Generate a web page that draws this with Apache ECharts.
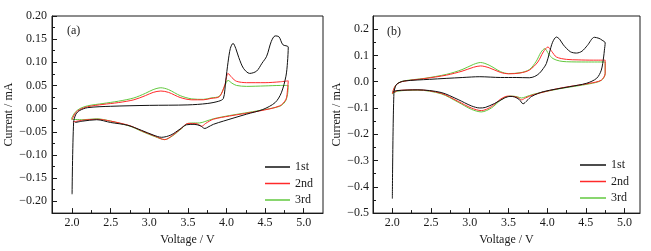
<!DOCTYPE html>
<html>
<head>
<meta charset="utf-8">
<script src="https://cdn.jsdelivr.net/npm/echarts@6/dist/echarts.min.js"></script>
<style>
  html, body { margin: 0; padding: 0; background: #fff; }
  #chart { width: 651px; height: 251px; }
</style>
</head>
<body>
<div id="chart"></div>
<script>
// cycle names
const cycles = ['1st', '2nd', '3rd']
const cycleColors = ['#111111', '#ff2a2a', '#62c83f']

// panel (a): [voltage V, current mA], anodic sweep then cathodic sweep
const a1st = [
  [2.00, -0.185], [2.02, -0.030], [2.05, -0.012], [2.10, -0.004], [2.20, 0.002],
  [2.50, 0.005], [3.00, 0.007], [3.50, 0.008], [3.75, 0.011], [3.90, 0.016],
  [3.96, 0.022], [3.99, 0.060], [4.02, 0.100], [4.05, 0.130], [4.085, 0.141],
  [4.12, 0.130], [4.16, 0.110], [4.22, 0.087], [4.30, 0.076], [4.39, 0.081],
  [4.46, 0.098], [4.52, 0.113], [4.58, 0.145], [4.63, 0.157], [4.68, 0.155],
  [4.73, 0.138], [4.80, 0.133],
  [4.79, 0.100], [4.77, 0.070], [4.71, 0.034], [4.63, 0.013], [4.47, -0.002],
  [4.26, -0.012], [3.96, -0.027], [3.83, -0.034], [3.76, -0.040], [3.72, -0.043],
  [3.66, -0.037], [3.58, -0.034], [3.48, -0.035], [3.40, -0.044], [3.28, -0.057],
  [3.16, -0.062], [3.05, -0.057], [2.90, -0.047], [2.72, -0.036], [2.50, -0.030],
  [2.32, -0.024], [2.14, -0.027], [2.04, -0.030]
]
const a2nd = [
  [2.00, -0.024], [2.04, -0.010], [2.10, -0.002], [2.20, 0.004], [2.40, 0.009],
  [2.60, 0.013], [2.80, 0.019], [2.95, 0.028], [3.05, 0.035], [3.15, 0.038],
  [3.25, 0.035], [3.40, 0.024], [3.55, 0.019], [3.70, 0.019], [3.80, 0.022],
  [3.91, 0.026], [3.98, 0.052], [4.02, 0.076], [4.07, 0.067], [4.13, 0.059],
  [4.26, 0.056], [4.50, 0.056], [4.70, 0.058], [4.80, 0.060],
  [4.79, 0.040], [4.77, 0.020], [4.69, 0.006], [4.43, -0.005], [4.04, -0.016],
  [3.83, -0.023], [3.73, -0.032], [3.68, -0.038], [3.62, -0.033], [3.50, -0.032],
  [3.42, -0.042], [3.30, -0.058], [3.20, -0.067], [3.08, -0.060], [2.90, -0.048],
  [2.75, -0.037], [2.50, -0.027], [2.32, -0.023], [2.14, -0.025], [2.01, -0.029]
]
const a3rd = [
  [1.99, -0.022], [2.04, -0.008], [2.10, 0.000], [2.20, 0.006], [2.40, 0.011],
  [2.60, 0.016], [2.80, 0.023], [2.95, 0.033], [3.05, 0.041], [3.15, 0.045],
  [3.25, 0.041], [3.40, 0.028], [3.55, 0.021], [3.70, 0.020], [3.80, 0.023],
  [3.91, 0.027], [3.98, 0.050], [4.02, 0.061], [4.07, 0.055], [4.13, 0.050],
  [4.26, 0.048], [4.50, 0.049], [4.70, 0.050], [4.80, 0.050],
  [4.79, 0.030], [4.76, 0.015], [4.69, 0.005], [4.43, -0.004], [4.04, -0.015],
  [3.83, -0.022], [3.72, -0.028], [3.65, -0.031], [3.60, -0.031], [3.50, -0.032],
  [3.42, -0.043], [3.30, -0.059], [3.20, -0.067], [3.08, -0.061], [2.90, -0.049],
  [2.75, -0.038], [2.50, -0.027], [2.32, -0.022], [2.14, -0.024], [1.99, -0.023]
]

// panel (b)
const b1st = [
  [2.00, -0.445], [2.02, -0.045], [2.05, -0.012], [2.10, -0.002], [2.16, 0.003],
  [2.48, 0.009], [2.91, 0.016], [3.13, 0.019], [3.40, 0.016], [3.60, 0.016],
  [3.77, 0.015], [3.84, 0.020], [3.90, 0.032], [3.95, 0.050], [3.99, 0.069],
  [4.03, 0.110], [4.07, 0.150], [4.12, 0.170], [4.16, 0.162], [4.21, 0.140],
  [4.30, 0.114], [4.38, 0.109], [4.45, 0.116], [4.52, 0.138], [4.61, 0.169],
  [4.67, 0.165], [4.71, 0.158], [4.75, 0.148],
  [4.74, 0.120], [4.73, 0.094], [4.70, 0.044], [4.64, 0.013], [4.51, -0.006],
  [4.29, -0.019], [3.95, -0.038], [3.80, -0.056], [3.74, -0.072], [3.69, -0.084],
  [3.64, -0.068], [3.58, -0.058], [3.52, -0.056], [3.45, -0.062], [3.32, -0.083],
  [3.20, -0.098], [3.13, -0.100], [3.02, -0.092], [2.85, -0.068], [2.63, -0.041],
  [2.33, -0.031], [2.05, -0.034], [2.01, -0.038]
]
const b2nd = [
  [2.00, -0.044], [2.04, -0.015], [2.12, 0.000], [2.42, 0.012], [2.70, 0.025],
  [2.90, 0.040], [3.05, 0.055], [3.14, 0.060], [3.25, 0.053], [3.40, 0.035],
  [3.50, 0.030], [3.65, 0.033], [3.77, 0.044], [3.88, 0.075], [3.95, 0.113],
  [4.01, 0.132], [4.06, 0.115], [4.12, 0.094], [4.25, 0.085], [4.40, 0.083],
  [4.60, 0.082], [4.75, 0.082],
  [4.75, 0.032], [4.70, 0.006], [4.55, -0.006], [4.16, -0.025], [3.82, -0.050],
  [3.72, -0.062], [3.67, -0.069], [3.62, -0.060], [3.56, -0.056], [3.49, -0.055],
  [3.40, -0.066], [3.28, -0.095], [3.15, -0.110], [3.02, -0.100], [2.85, -0.075],
  [2.63, -0.044], [2.33, -0.031], [2.07, -0.034], [2.00, -0.044]
]
const b3rd = [
  [2.00, -0.046], [2.04, -0.015], [2.12, 0.001], [2.42, 0.013], [2.70, 0.028],
  [2.90, 0.046], [3.05, 0.066], [3.14, 0.073], [3.25, 0.063], [3.40, 0.038],
  [3.50, 0.031], [3.65, 0.034], [3.77, 0.046], [3.86, 0.078], [3.92, 0.112],
  [3.97, 0.126], [4.02, 0.105], [4.075, 0.088], [4.16, 0.079], [4.25, 0.076],
  [4.50, 0.075], [4.75, 0.075],
  [4.75, 0.030], [4.70, 0.005], [4.55, -0.008], [4.16, -0.027], [3.82, -0.048],
  [3.72, -0.058], [3.67, -0.062], [3.62, -0.058], [3.56, -0.055], [3.49, -0.056],
  [3.40, -0.070], [3.28, -0.100], [3.15, -0.115], [3.02, -0.105], [2.85, -0.078],
  [2.63, -0.046], [2.33, -0.032], [2.07, -0.036], [2.00, -0.046]
]

// tick values
const xTicks = [2.0, 2.5, 3.0, 3.5, 4.0, 4.5, 5.0]
const xMinor = [2.25, 2.75, 3.25, 3.75, 4.25, 4.75]
const yTicksA = [-0.20, -0.15, -0.10, -0.05, 0.00, 0.05, 0.10, 0.15, 0.20]
const yMinorA = [-0.175, -0.125, -0.075, -0.025, 0.025, 0.075, 0.125, 0.175]
const yTicksB = [-0.5, -0.4, -0.3, -0.2, -0.1, 0.0, 0.1, 0.2]
const yMinorB = [-0.45, -0.35, -0.25, -0.15, -0.05, 0.05, 0.15]

const font = 'Liberation Serif'
const ink = '#1a1a1a'
const minus = (s) => s.replace('-', '\u2212')

const chart = echarts.init(document.getElementById('chart'))

function xAxes(grid, min, max) {
  return [
    {
      type: 'value', gridIndex: grid, min, max, position: 'bottom',
      name: 'Voltage / V', nameLocation: 'middle', nameGap: 15,
      nameTextStyle: { fontFamily: font, fontSize: 12, color: ink },
      axisLine: { onZero: false, lineStyle: { color: ink, width: 1 } },
      axisTick: { inside: true, length: 5, customValues: xTicks, lineStyle: { color: ink } },
      axisLabel: { customValues: xTicks, margin: 4, fontFamily: font, fontSize: 12, color: ink,
        formatter: (v) => v.toFixed(1) },
      splitLine: { show: false },
    },
    {
      type: 'value', gridIndex: grid, min, max, position: 'bottom',
      axisLine: { show: false, onZero: false },
      axisTick: { inside: true, length: 3, customValues: xMinor, lineStyle: { color: ink } },
      axisLabel: { show: false },
      splitLine: { show: false },
    },
  ]
}

function yAxes(grid, min, max, ticks, minor, digits, gap, margin) {
  return [
    {
      type: 'value', gridIndex: grid, min, max, position: 'left',
      name: 'Current / mA', nameLocation: 'middle', nameGap: gap,
      nameTextStyle: { fontFamily: font, fontSize: 12, color: ink },
      axisLine: { show: true, onZero: false, lineStyle: { color: ink, width: 1 } },
      axisTick: { show: true, inside: true, length: 5, customValues: ticks, lineStyle: { color: ink } },
      axisLabel: { customValues: ticks, margin, fontFamily: font, fontSize: 12, color: ink,
        formatter: (v) => minus(v.toFixed(digits)) },
      splitLine: { show: false },
    },
    {
      type: 'value', gridIndex: grid, min, max, position: 'left',
      axisLine: { show: false, onZero: false },
      axisTick: { show: true, inside: true, length: 3, customValues: minor, lineStyle: { color: ink } },
      axisLabel: { show: false },
      splitLine: { show: false },
    },
  ]
}

function cv(name, data, i, axis) {
  return {
    name, type: 'line', data,
    xAxisIndex: axis, yAxisIndex: axis,
    symbol: 'none', smooth: 0.3,
    lineStyle: { width: 1, color: cycleColors[i] },
    itemStyle: { color: cycleColors[i] },
    z: 3 - i,
  }
}

const legendBase = {
  orient: 'vertical', icon: 'rect', itemHeight: 1.5, itemGap: 4.5, padding: 0,
  data: cycles,
  textStyle: { fontFamily: font, fontSize: 12, color: ink, lineHeight: 12 },
}

const option = {
  animation: false,
  grid: [
    { left: 52, top: 16, width: 271, height: 198, show: true, borderColor: ink, borderWidth: 1 },
    { left: 373, top: 16, width: 267, height: 198, show: true, borderColor: ink, borderWidth: 1 },
  ],
  xAxis: [...xAxes(0, 1.74, 5.25), ...xAxes(1, 1.75, 5.2)],
  yAxis: [
    ...yAxes(0, -0.2257, 0.2, yTicksA, yMinorA, 2, 28, 5),
    ...yAxes(1, -0.5, 0.25, yTicksB, yMinorB, 1, 30, 4),
  ],
  legend: [
    { ...legendBase, left: 265, top: 161, itemWidth: 25 },
    { ...legendBase, left: 580, top: 159, itemWidth: 26 },
  ],
  graphic: [
    { type: 'text', left: 67, top: 25, style: { text: '(a)', font: `12px "${font}"`, fill: ink } },
    { type: 'text', left: 387, top: 26, style: { text: '(b)', font: `12px "${font}"`, fill: ink } },
  ],
  series: [
    cv(cycles[0], a1st, 0, 0),
    cv(cycles[1], a2nd, 1, 0),
    cv(cycles[2], a3rd, 2, 0),
    cv(cycles[0], b1st, 0, 2),
    cv(cycles[1], b2nd, 1, 2),
    cv(cycles[2], b3rd, 2, 2),
  ],
}

chart.setOption(option)
</script>
</body>
</html>
